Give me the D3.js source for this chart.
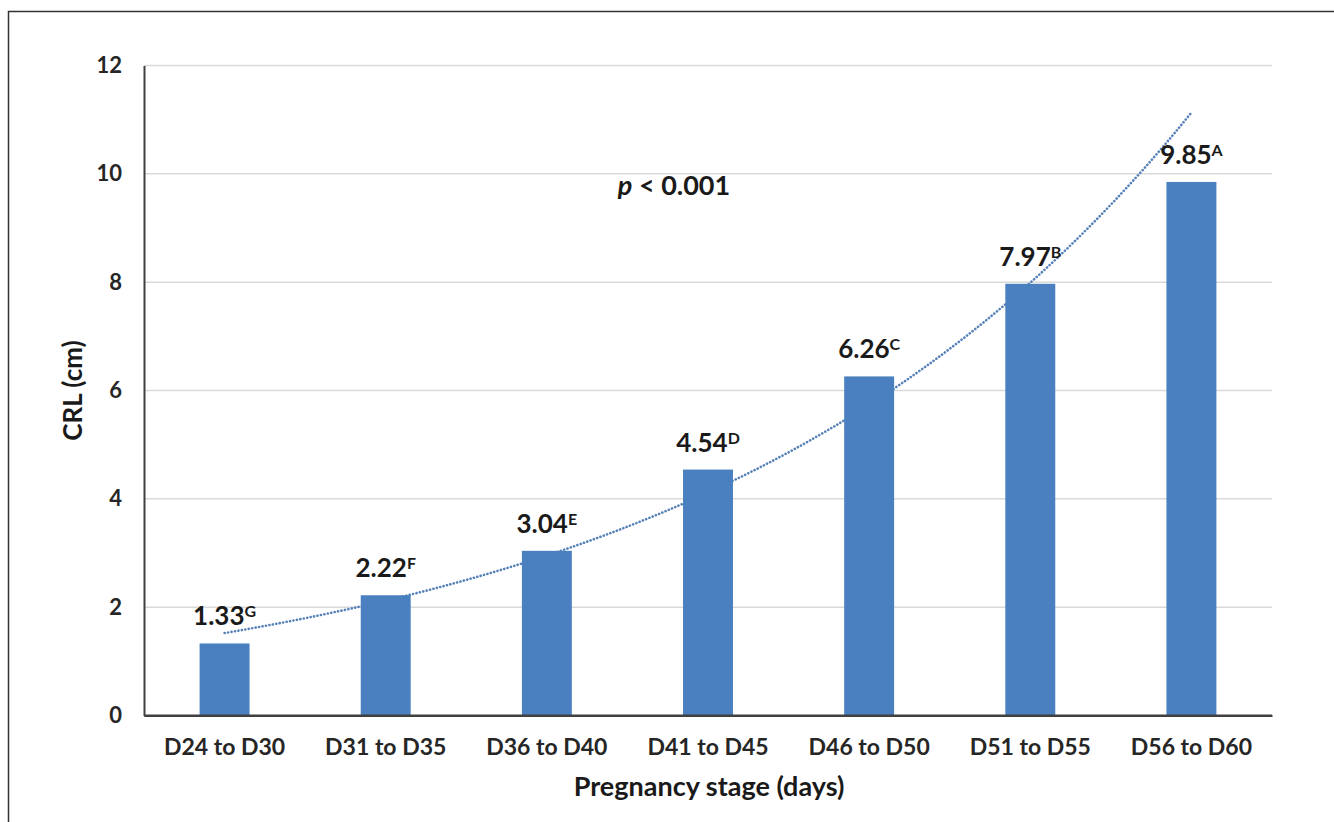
<!doctype html>
<html lang="en">
    <head>
        <meta charset="UTF-8" />
        <title>CRL by pregnancy stage</title>
        <script src="https://d3js.org/d3.v7.min.js"></script>
        <style>
            body {
                margin: 0;
                background: #fff;
                font-family: Lato, "Open Sans", sans-serif;
            }
            .axis text {
                font-family: Lato, "Open Sans", sans-serif;
                font-weight: bold;
                fill: #262626;
            }
        </style>
    </head>
    <body>
        <svg id="chart" width="1334" height="822"></svg>
        <script>
            const stages = ["D24 to D30", "D31 to D35", "D36 to D40", "D41 to D45", "D46 to D50", "D51 to D55", "D56 to D60"];
            const crl = [1.33, 2.22, 3.04, 4.54, 6.26, 7.97, 9.85];
            const letters = ["G", "F", "E", "D", "C", "B", "A"];
            const yTicks = [0, 2, 4, 6, 8, 10, 12];

            const svg = d3.select("#chart");
            const margin = { top: 65.5, right: 62, bottom: 106.5, left: 144 };
            const width = 1334, height = 822;

            // frame round the figure
            svg.append("rect")
                .attr("x", 8.5).attr("y", 11.5)
                .attr("width", 1400).attr("height", 900)
                .attr("fill", "none").attr("stroke", "#333").attr("stroke-width", 1.5);

            const x = d3.scaleBand()
                .domain(stages)
                .range([margin.left, width - margin.right])
                .paddingInner(0.69).paddingOuter(0.345);

            const y = d3.scaleLinear()
                .domain([0, 12])
                .range([height - margin.bottom, margin.top]);

            // gridlines
            svg.append("g")
                .selectAll("line")
                .data(yTicks.filter((d) => d > 0))
                .join("line")
                .attr("x1", margin.left).attr("x2", width - margin.right)
                .attr("y1", (d) => y(d)).attr("y2", (d) => y(d))
                .attr("stroke", "#d9d9d9").attr("stroke-width", 1.5);

            // exponential trendline (least squares on log values, as Excel does) - sits behind bars
            const idx = crl.map((d, i) => i + 1);
            const lnv = crl.map(Math.log);
            const mx = d3.mean(idx), my = d3.mean(lnv);
            const b = d3.sum(idx, (d, i) => (d - mx) * (lnv[i] - my)) / d3.sum(idx, (d) => (d - mx) ** 2);
            const a = Math.exp(my - b * mx);
            const step = x.step();
            const trend = d3.range(1, 7.001, 0.05);
            svg.append("path")
                .datum(trend)
                .attr("d", d3.line()
                    .x((t) => x(stages[0]) + x.bandwidth() / 2 + (t - 1) * step)
                    .y((t) => y(a * Math.exp(b * t))))
                .attr("fill", "none")
                .attr("stroke", "#5680b8")
                .attr("stroke-width", 2.6)
                .attr("stroke-linecap", "round")
                .attr("stroke-dasharray", "0.1 3.4");

            // bars
            svg.append("g")
                .selectAll("rect")
                .data(stages)
                .join("rect")
                .attr("x", (d) => x(d))
                .attr("y", (d, i) => y(crl[i]))
                .attr("width", x.bandwidth())
                .attr("height", (d, i) => y(0) - y(crl[i]))
                .attr("fill", "#4a80bf");

            // axes
            const xAxis = svg.append("g")
                .attr("class", "axis")
                .attr("transform", `translate(0,${y(0)})`)
                .call(d3.axisBottom(x).tickSize(0).tickPadding(23));
            xAxis.select(".domain").attr("stroke", "#404040").attr("stroke-width", 2);
            xAxis.selectAll("text").style("font-size", "23px");

            const yAxis = svg.append("g")
                .attr("class", "axis")
                .attr("transform", `translate(${margin.left},0)`)
                .call(d3.axisLeft(y).tickValues(yTicks).tickSize(0).tickPadding(22));
            yAxis.select(".domain").attr("stroke", "#404040").attr("stroke-width", 2);
            yAxis.selectAll("text").style("font-size", "22px");
            svg.append("line")
                .attr("x1", margin.left).attr("x2", width - margin.right)
                .attr("y1", y(0)).attr("y2", y(0))
                .attr("stroke", "#404040").attr("stroke-width", 2);

            // value labels with letter superscripts
            const lab = svg.append("g")
                .selectAll("text")
                .data(stages)
                .join("text")
                .attr("x", (d) => x(d) + x.bandwidth() / 2)
                .attr("y", (d, i) => y(crl[i]) - 18)
                .attr("text-anchor", "middle")
                .style("font-size", "26px")
                .style("font-weight", "bold")
                .attr("fill", "#1a1a1a");
            lab.append("tspan").text((d, i) => crl[i].toFixed(2));
            lab.append("tspan")
                .attr("dy", -8)
                .style("font-size", "16px")
                .text((d, i) => letters[i]);

            // p value
            const pt = svg.append("text")
                .attr("x", 674)
                .attr("y", 195)
                .attr("text-anchor", "middle")
                .style("font-size", "27px")
                .style("font-weight", "bold")
                .attr("fill", "#1a1a1a");
            pt.append("tspan").style("font-style", "italic").text("p");
            pt.append("tspan").text(" < 0.001");

            // axis titles
            svg.append("text")
                .attr("x", 709)
                .attr("y", 796)
                .attr("text-anchor", "middle")
                .style("font-size", "27px")
                .style("font-weight", "bold")
                .attr("fill", "#1a1a1a")
                .text("Pregnancy stage (days)");

            svg.append("text")
                .attr("transform", `translate(82,${(y(0) + y(12)) / 2}) rotate(-90)`)
                .attr("text-anchor", "middle")
                .style("font-size", "26px")
                .style("font-weight", "bold")
                .attr("fill", "#1a1a1a")
                .text("CRL (cm)");
        </script>
    </body>
</html>
